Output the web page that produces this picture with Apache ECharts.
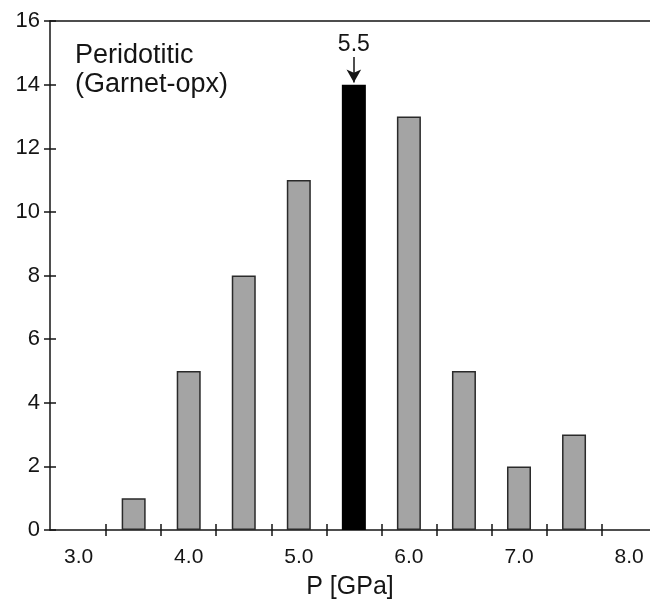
<!DOCTYPE html>
<html>
<head>
  <meta charset="utf-8">
</head>
<body style="margin: 0; width: 650px; height: 605px; background: #fff;">
  <div id="container" style="width: 650px; height: 605px;"></div>
  <script src="https://cdn.jsdelivr.net/npm/echarts@6/dist/echarts.min.js"></script>
  <script>
    // pressure bins (GPa) and number of samples per bin
    var pressures = [3.5, 4.0, 4.5, 5.0, 5.5, 6.0, 6.5, 7.0, 7.5];
    var counts = [1, 5, 8, 11, 14, 13, 5, 2, 3];
    var peakP = 5.5;
    var xLabels = [3, 4, 5, 6, 7, 8];
    var xTicks = [3.25, 3.75, 4.25, 4.75, 5.25, 5.75, 6.25, 6.75, 7.25, 7.75];

    var font = 'Liberation Sans, Arial, sans-serif';
    var ink = '#151515';
    var peakCount = counts[pressures.indexOf(peakP)];

    var barData = pressures.map(function (p, i) {
      var item = { value: [p, counts[i]] };
      if (p === peakP) {
        item.itemStyle = { color: '#000', borderColor: '#000' };
      }
      return item;
    });

    var chart = echarts.init(document.getElementById('container'), null, { renderer: 'canvas' });

    var xMin = 2.74, xMax = 8.19;
    var option = {
      animation: false,
      backgroundColor: '#fff',
      title: {
        text: 'Peridotitic\n(Garnet-opx)',
        left: 75,
        top: 41,
        padding: 0,
        textStyle: {
          fontFamily: font,
          fontSize: 27,
          lineHeight: 29,
          fontWeight: 'normal',
          color: ink
        }
      },
      grid: { left: 50, right: 0, top: 21, bottom: 74 },
      xAxis: [{
        // main bottom axis: line, outer ticks, labels
        type: 'value',
        min: xMin,
        max: xMax,
        position: 'bottom',
        name: 'P [GPa]',
        nameLocation: 'middle',
        nameGap: 45,
        nameTextStyle: { fontFamily: font, fontSize: 25, color: ink },
        axisLine: { show: true, lineStyle: { color: ink, width: 1.5 } },
        axisTick: { show: true, length: 6, customValues: xTicks, lineStyle: { color: ink, width: 1.5 } },
        axisLabel: {
          customValues: xLabels,
          margin: 17,
          fontFamily: font,
          fontSize: 21,
          color: ink,
          formatter: function (v) { return v.toFixed(1); }
        },
        splitLine: { show: false }
      }, {
        // inner half of the crossing ticks
        type: 'value',
        min: xMin,
        max: xMax,
        position: 'bottom',
        axisLine: { show: false },
        axisTick: { show: true, inside: true, length: 6, customValues: xTicks, lineStyle: { color: ink, width: 1.5 } },
        axisLabel: { show: false },
        splitLine: { show: false }
      }, {
        // top frame line
        type: 'value',
        min: xMin,
        max: xMax,
        position: 'top',
        axisLine: { show: true, lineStyle: { color: ink, width: 1.5 } },
        axisTick: { show: false },
        axisLabel: { show: false },
        splitLine: { show: false }
      }],
      yAxis: [{
        type: 'value',
        min: 0,
        max: 16,
        interval: 2,
        position: 'left',
        axisLine: { show: true, lineStyle: { color: ink, width: 1.5 } },
        axisTick: { show: true, length: 6, lineStyle: { color: ink, width: 1.5 } },
        axisLabel: { margin: 10, fontFamily: font, fontSize: 22, color: ink },
        splitLine: { show: false }
      }, {
        type: 'value',
        min: 0,
        max: 16,
        interval: 2,
        position: 'left',
        axisLine: { show: false },
        axisTick: { show: true, inside: true, length: 6, lineStyle: { color: ink, width: 1.5 } },
        axisLabel: { show: false },
        splitLine: { show: false }
      }],
      series: [{
        type: 'bar',
        xAxisIndex: 0,
        yAxisIndex: 0,
        barWidth: 24,
        data: barData,
        itemStyle: { color: '#a4a4a4', borderColor: '#2a2a2a', borderWidth: 1.5 },
        markLine: {
          silent: true,
          animation: false,
          symbol: ['none', 'arrow'],
          symbolSize: [11, 13],
          lineStyle: { color: ink, width: 1.5, type: 'solid' },
          label: {
            show: true,
            position: 'start',
            distance: 1,
            formatter: String(peakP),
            fontFamily: font,
            fontSize: 23,
            color: ink
          },
          data: [[
            { coord: [peakP, peakCount + 0.87] },
            { coord: [peakP, peakCount + 0.07] }
          ]]
        }
      }]
    };

    chart.setOption(option);
  </script>
</body>
</html>
